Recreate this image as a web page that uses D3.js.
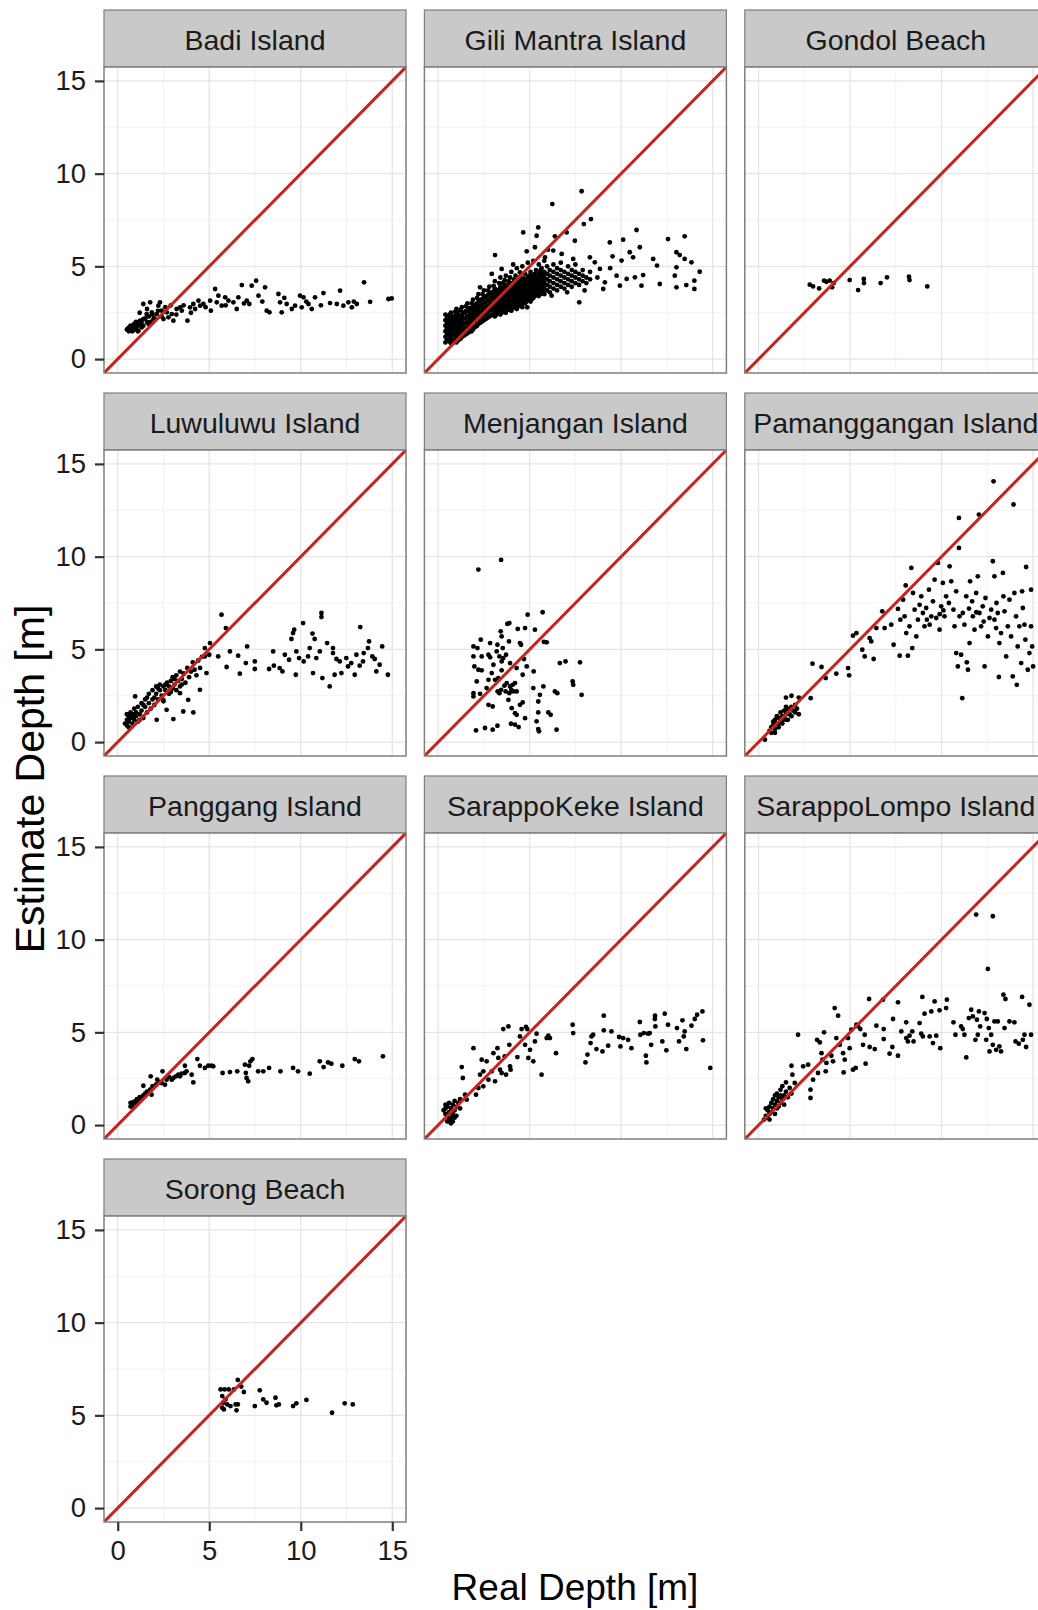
<!DOCTYPE html>
<html>
<head>
<meta charset="utf-8">
<script src="https://cdn.jsdelivr.net/npm/d3@7"></script>
<style>
  body { margin: 0; background: #fff; }
  text { font-family: "Liberation Sans", Arial, sans-serif; }
</style>
</head>
<body>
<script>
// facet order, same as the reference
var sites = ["Badi Island", "Gili Mantra Island", "Gondol Beach",
             "Luwuluwu Island", "Menjangan Island", "Pamanggangan Island",
             "Panggang Island", "SarappoKeke Island", "SarappoLompo Island",
             "Sorong Beach"];

var majorTicks = [0, 5, 10, 15];
var minorTicks = [2.5, 7.5, 12.5];
var axisDomain = [-0.75, 15.75];

// [real depth, estimate depth]
var badi = [[0.55,1.62],[0.67,1.71],[0.76,1.53],[0.86,1.8],[0.95,1.62],[1.04,1.89],[1.13,1.53],[1.22,2.07],
  [1.31,1.71],[1.4,2.97],[1.4,2.16],[1.58,2.43],[1.68,1.89],[1.77,3.06],[1.86,2.52],[1.95,2.16],[2.13,2.43],
  [2.22,2.88],[2.31,3.06],[2.4,2.61],[2.5,2.16],[2.68,2.52],[2.77,2.25],[2.95,2.43],[3.04,2.07],[3.22,2.7],
  [3.41,2.79],[3.5,2.61],[3.81,2.07],[3.95,2.79],[4.13,2.97],[4.23,2.7],[4.41,3.15],[4.5,2.88],[4.68,2.97],
  [5.05,3.15],[5.09,2.61],[5.32,3.78],[5.41,3.06],[5.5,3.42],[5.68,2.88],[5.87,3.33],[6.05,3.15],[6.32,3.06],
  [6.5,2.7],[6.59,3.33],[6.78,3.99],[7.05,3.15],[7.19,2.97],[7.32,3.96],[7.56,4.23],[7.69,3.42],[8.05,3.87],
  [8.14,2.61],[8.29,2.52],[8.78,3.51],[8.87,3.06],[8.96,2.52],[9.23,2.97],[9.51,2.7],[9.69,2.88],[9.96,3.42],
  [10.05,2.79],[10.15,3.33],[10.42,2.97],[10.6,2.7],[10.78,3.33],[11.24,3.56],[11.6,3.02],[11.97,2.97],
  [12.15,3.69],[12.33,2.88],[12.6,3.06],[12.79,2.79],[13.06,2.97],[13.46,4.14],[13.79,3.09],[14.79,3.24],
  [14.97,3.27],[0.5,1.6],[0.6,1.7],[0.6,1.5],[0.7,1.8],[0.7,1.6],[0.8,1.5],[0.8,1.7],[0.9,1.9],[0.9,1.6],
  [1.0,1.7],[1.0,2.0],[1.1,1.8],[1.2,1.9],[1.3,2.0],[1.1,1.5],[1.4,1.8],[1.5,2.2],[1.6,2.0],[1.7,2.3],
  [1.8,2.0],[1.9,2.4],[2.0,2.2],[2.2,2.6],[2.4,2.3],[2.6,2.8],[1.2,2.5],[1.6,2.7],[2.9,2.9],[3.2,2.4],
  [3.6,2.9],[4.0,2.5],[4.8,2.8],[5.9,2.9],[6.9,3.0],[7.9,3.1],[9.1,3.3],[10.3,3.1],[11.1,2.9],[12.9,3.1]];

// dense core of Gili Mantra, read column by column: [x, [estimates...]]
var giliCore = [
  [0.4,[0.9,1.2,1.5,1.8,2.1,2.4]], [0.55,[1.0,1.35,1.65,1.95,2.25]], [0.7,[0.85,1.15,1.45,1.75,2.05,2.5]],
  [0.85,[1.0,1.3,1.6,1.9,2.2]], [1.0,[0.9,1.2,1.5,1.8,2.1,2.4,2.7]], [1.15,[1.05,1.35,1.65,1.95,2.25]],
  [1.3,[1.2,1.5,1.8,2.1,2.4,2.8]], [1.45,[1.3,1.6,1.9,2.2,2.5]], [1.6,[1.4,1.7,2.0,2.3,2.6,3.0]],
  [1.75,[1.55,1.85,2.15,2.45,2.75]], [1.9,[1.6,1.9,2.2,2.5,2.8,3.2]], [2.05,[1.75,2.05,2.35,2.65,2.95]],
  [2.2,[1.9,2.2,2.5,2.8,3.1,3.5]], [2.35,[2.0,2.3,2.6,2.9,3.2]], [2.5,[2.1,2.4,2.7,3.0,3.3,3.7]],
  [2.65,[2.2,2.5,2.8,3.1,3.4]], [2.8,[2.3,2.6,2.9,3.2,3.5,3.9]], [2.95,[2.4,2.7,3.0,3.3,3.6]],
  [3.1,[2.3,2.6,2.9,3.2,3.5,3.8,4.2]], [3.25,[2.5,2.8,3.1,3.4,3.7]], [3.4,[2.4,2.7,3.0,3.3,3.6,3.9,4.4]],
  [3.55,[2.6,2.9,3.2,3.5,3.8,4.1]], [3.7,[2.5,2.8,3.1,3.4,3.7,4.0,4.5]], [3.85,[2.7,3.0,3.3,3.6,3.9,4.2]],
  [4.0,[2.6,2.9,3.2,3.5,3.8,4.1,4.7]], [4.15,[2.8,3.1,3.4,3.7,4.0,4.3]], [4.3,[2.7,3.0,3.3,3.6,3.9,4.2,4.9]],
  [4.45,[2.9,3.2,3.5,3.8,4.1,4.4]], [4.6,[2.8,3.1,3.4,3.7,4.0,4.3,5.0]], [4.75,[3.0,3.3,3.6,3.9,4.2,4.6]],
  [4.9,[3.2,3.5,3.8,4.1,4.4,5.2]], [5.05,[3.1,3.4,3.7,4.0,4.3,4.7]], [5.2,[3.3,3.6,3.9,4.2,4.5,5.3]],
  [5.35,[3.5,3.8,4.1,4.4,4.8]], [5.5,[3.4,3.7,4.0,4.3,4.6,5.1]], [5.65,[3.6,3.9,4.2,4.5,4.9]],
  [5.8,[3.5,3.8,4.1,4.4,4.7,5.3]], [5.95,[3.7,4.0,4.3,4.6,5.0]], [6.1,[3.6,3.9,4.2,4.5,4.8]],
  [6.3,[3.8,4.1,4.4,4.7,5.1]], [6.5,[3.7,4.0,4.3,4.6,4.9]], [6.7,[3.9,4.2,4.5,4.8,5.2]],
  [6.9,[3.8,4.1,4.4,4.7]], [7.1,[4.0,4.3,4.6,5.0]], [7.3,[3.9,4.2,4.5,4.8]], [7.5,[4.1,4.4,4.7,5.1]],
  [7.7,[4.0,4.3,4.6]], [7.9,[4.2,4.5,4.8]], [8.1,[4.1,4.4]], [8.3,[4.3,4.7]],
  [0.48,[1.05,1.35,1.65,1.95,2.3]], [0.63,[0.95,1.25,1.55,1.85,2.15,2.4]], [0.78,[1.0,1.3,1.6,1.9,2.3]],
  [0.93,[1.05,1.35,1.7,2.0,2.3,2.55]], [1.08,[1.0,1.25,1.55,1.85,2.15,2.5]], [1.23,[1.1,1.4,1.7,2.0,2.35,2.65]],
  [1.38,[1.25,1.55,1.85,2.2,2.5]], [1.53,[1.35,1.65,1.95,2.25,2.6,2.85]], [1.68,[1.45,1.75,2.05,2.35,2.65]],
  [1.83,[1.5,1.8,2.1,2.4,2.7,3.0]], [1.98,[1.7,2.0,2.3,2.6,2.9]], [2.13,[1.8,2.1,2.4,2.7,3.0,3.3]],
  [2.28,[1.95,2.25,2.55,2.85,3.15]], [2.43,[2.05,2.35,2.65,2.95,3.25,3.5]], [2.58,[2.15,2.45,2.75,3.05,3.35]],
  [2.73,[2.25,2.55,2.85,3.15,3.45,3.7]], [2.88,[2.35,2.65,2.95,3.25,3.55]], [3.03,[2.45,2.75,3.05,3.35,3.65,3.95]],
  [3.18,[2.4,2.7,3.0,3.3,3.6]], [3.33,[2.55,2.85,3.15,3.45,3.75,4.1]], [3.48,[2.5,2.8,3.1,3.4,3.7]],
  [3.63,[2.7,3.0,3.3,3.6,3.9,4.25]], [3.78,[2.65,2.95,3.25,3.55,3.85]], [3.93,[2.8,3.1,3.4,3.7,4.0,4.4]],
  [4.08,[2.75,3.05,3.35,3.65,3.95]], [4.23,[2.9,3.2,3.5,3.8,4.1,4.5]], [4.38,[2.85,3.15,3.45,3.75,4.05]],
  [4.53,[3.0,3.3,3.6,3.9,4.2,4.6]], [4.68,[3.15,3.45,3.75,4.05,4.35]], [4.83,[3.1,3.4,3.7,4.0,4.3]],
  [4.98,[3.3,3.6,3.9,4.2,4.5]], [5.13,[3.25,3.55,3.85,4.15,4.45]], [5.28,[3.4,3.7,4.0,4.3,4.6]],
  [5.43,[3.6,3.9,4.2,4.5]], [5.58,[3.5,3.8,4.1,4.4,4.75]], [5.73,[3.7,4.0,4.3,4.6]]];

var giliOuter = [[7.84,9.05],[6.24,8.36],[8.35,7.55],[7.96,7.28],[5.47,7.1],[4.65,6.83],[5.38,6.65],[10.84,6.96],
  [12.56,6.47],[13.47,6.62],[10.11,6.44],[9.38,6.29],[6.38,6.62],[7.02,6.83],[7.47,6.38],[11.02,6.03],
  [10.47,5.76],[9.53,5.54],[10.02,5.31],[10.65,5.49],[11.75,5.4],[11.96,5.04],[13.02,5.76],[13.2,5.61],
  [13.47,5.4],[13.84,5.22],[14.29,4.71],[13.02,4.95],[12.93,4.5],[13.56,3.99],[14.0,3.78],[14.0,4.23],
  [13.02,3.87],[12.11,4.05],[11.11,3.96],[11.2,4.53],[10.75,4.41],[10.3,4.32],[9.93,3.96],[9.75,4.5],
  [9.11,4.14],[9.02,3.78],[8.84,4.86],[8.56,5.22],[8.29,5.49],[7.71,3.06],[7.05,3.6],[6.2,3.42],[4.87,2.79],
  [3.11,5.61],[3.47,4.86],[2.93,4.59],[4.47,4.68],[4.84,5.81],[5.29,6.03],[5.84,5.49],[6.29,5.85],
  [6.75,5.67],[7.38,5.4],[2.29,3.87],[8.7,4.4],[9.4,4.9],[8.0,3.7],[6.0,5.9],[4.1,5.1]];

var gondol = [[2.8,4.01],[2.98,3.92],[3.31,3.81],[3.58,4.23],[3.71,4.17],[3.89,4.23],[4.02,3.87],[4.11,4.1],
  [4.98,4.26],[5.44,3.72],[5.75,4.32],[5.76,4.1],[6.67,4.1],[7.02,4.41],[8.22,4.44],[8.25,4.26],[9.22,3.92]];

var luwuluwu = [[0.4,1.0],[0.5,1.2],[0.5,0.9],[0.6,1.4],[0.6,1.1],[0.7,1.3],[0.7,1.6],[0.8,1.0],[0.8,1.5],
  [0.9,1.2],[0.9,1.8],[1.0,1.4],[1.0,1.6],[1.1,1.1],[1.1,1.9],[1.2,1.5],[1.3,1.7],[1.3,2.1],[1.4,1.3],
  [1.5,1.9],[1.5,2.3],[1.6,1.6],[1.7,2.1],[1.7,2.6],[1.8,1.8],[1.9,2.3],[1.9,2.8],[2.0,2.0],[2.1,2.6],
  [2.1,3.0],[2.2,2.3],[2.3,2.8],[2.3,3.1],[2.4,2.5],[2.5,3.0],[2.5,2.2],[2.6,2.8],[2.7,3.2],[2.8,2.6],
  [2.8,3.0],[2.9,3.3],[3.0,2.9],[3.0,3.5],[3.1,3.1],[3.2,2.8],[3.2,3.6],[3.3,3.3],[3.4,3.0],[3.4,3.8],
  [3.5,3.4],[3.6,3.7],[3.7,3.2],[3.8,4.0],[3.9,3.5],[4.0,3.8],[4.1,4.3],[4.2,3.9],[4.3,3.6],[4.4,4.4],
  [4.5,4.0],[4.6,4.6],[0.5,1.5],[0.6,0.8],[0.8,1.3],[1.2,1.2],[1.4,2.0],[1.6,2.4],[2.0,2.4],[2.2,2.9],
  [2.6,3.1],[2.9,2.7],[3.5,3.1],[3.1,3.4],
  [5.67,6.87],[5.91,6.15],[5.04,5.34],[4.76,5.07],[4.76,4.62],[5.0,4.71],[5.49,4.62],[6.13,4.89],[5.95,4.05],
  [6.58,4.66],[6.67,3.69],[7.0,4.26],[7.07,5.16],[7.49,4.35],[7.49,3.94],[8.27,3.94],[8.49,4.89],[8.53,4.12],
  [8.85,3.99],[9.0,3.81],[9.13,4.71],[9.36,4.44],[9.49,5.56],[9.58,5.88],[9.64,6.06],[9.73,3.63],[9.76,4.89],
  [9.91,4.53],[10.13,6.42],[10.16,4.35],[10.49,5.07],[10.64,5.85],[10.67,3.72],[10.76,5.56],[11.04,4.89],
  [11.13,6.96],[11.13,6.74],[11.18,3.45],[11.44,5.34],[11.58,3.0],[11.76,5.07],[11.85,3.63],[11.95,4.48],
  [12.13,4.35],[12.22,3.72],[12.49,4.53],[12.58,4.08],[12.95,3.63],[13.04,4.71],[13.22,4.12],[13.25,6.2],
  [13.44,4.8],[13.67,5.07],[13.73,5.43],[13.91,4.62],[14.04,4.48],[14.31,4.17],[14.45,5.16],[14.13,3.81],
  [14.76,3.63],[12.76,4.26],[11.76,4.8],[10.4,4.62],[10.85,4.53],[13.4,4.35],
  [3.04,1.24],[3.58,1.65],[4.13,1.6],[2.13,1.2],[2.67,1.74],[2.49,2.28],[3.4,2.64],[3.85,2.28],[4.49,2.82],
  [4.85,3.72],[0.95,2.46]];

var menjangan = [[2.2,9.3],[3.44,9.82],[4.89,6.87],[5.71,7.0],[3.78,6.37],[3.89,6.42],[4.35,6.1],[4.75,6.15],
  [5.29,6.06],[3.42,5.97],[3.47,5.7],[2.33,5.52],[1.93,5.16],[2.15,5.07],[2.84,5.34],[3.24,5.25],[3.53,5.07],
  [3.87,5.43],[4.53,5.25],[5.78,5.4],[5.93,5.38],[1.93,4.62],[2.38,4.62],[2.75,4.71],[2.84,4.57],[3.2,4.89],
  [3.35,4.62],[3.56,4.53],[3.71,4.71],[3.47,4.35],[1.98,4.08],[3.02,4.17],[3.93,4.26],[4.29,3.99],[4.69,4.48],
  [4.84,4.08],[2.2,3.9],[2.38,3.87],[2.93,3.72],[3.47,3.87],[3.29,3.45],[4.62,3.63],[5.22,3.81],[6.65,4.26],
  [6.96,4.35],[7.75,4.3],[2.11,3.27],[2.75,3.36],[3.11,3.36],[3.75,3.18],[3.93,3.0],[4.07,3.09],[4.11,2.73],
  [4.29,2.73],[3.89,2.64],[4.0,2.82],[3.69,2.73],[3.35,2.64],[3.44,2.82],[3.25,2.73],[1.93,2.64],[2.29,2.6],
  [1.93,2.46],[2.65,2.91],[5.2,2.91],[5.75,3.0],[5.56,2.55],[6.38,2.73],[6.51,2.64],[7.35,3.27],[7.38,3.09],
  [7.84,2.55],[5.47,2.19],[4.62,2.14],[4.47,2.01],[3.84,2.28],[2.75,2.01],[2.98,1.92],[4.02,1.83],[5.47,1.6],
  [6.02,1.6],[6.15,1.47],[4.2,1.56],[4.29,1.47],[4.75,1.29],[5.38,1.12],[2.07,0.63],[2.56,0.76],[2.98,0.67],
  [3.24,0.88],[3.98,0.99],[4.2,0.94],[4.4,0.81],[5.47,0.7],[5.51,0.58],[6.47,0.67],[4.47,5.34],[4.2,3.18],
  [3.62,3.04]];

var pamanggangan = [[0.35,0.13],[0.6,0.6],[0.7,0.8],[0.7,0.5],[0.8,0.9],[0.8,1.1],[0.9,0.7],[0.9,1.2],[1.0,1.0],
  [1.0,1.4],[1.1,0.8],[1.1,1.3],[1.2,1.1],[1.2,1.6],[1.3,1.4],[1.3,1.0],[1.4,1.7],[1.4,1.3],[1.5,1.5],
  [1.5,1.9],[1.6,1.2],[1.6,1.7],[1.7,1.5],[1.8,1.9],[1.8,1.4],[1.9,1.7],[2.0,1.6],[2.1,1.8],[2.2,1.5],
  [1.5,2.4],[1.8,2.5],[2.2,2.4],[0.9,0.5],[1.1,1.0],[1.3,1.2],[1.5,1.2],[1.7,1.8],[2.0,2.0],
  [2.85,2.37],[2.95,4.23],[3.44,4.05],[3.67,3.45],[4.25,3.69],[4.89,3.99],[4.95,3.6],[5.16,5.74],[5.35,5.88],
  [5.67,4.98],[5.8,4.62],[6.07,5.61],[6.16,5.43],[6.29,4.48],[6.44,6.15],[6.76,7.05],[6.89,6.15],[7.25,6.33],
  [7.38,5.25],[7.62,7.18],[7.71,4.66],[7.75,6.6],[7.98,6.78],[8.04,8.45],[8.07,5.88],[8.16,4.66],[8.25,6.24],
  [8.35,9.39],[8.4,5.07],[8.44,8.04],[8.53,7.14],[8.62,5.7],[8.71,6.6],[8.89,7.86],[8.98,6.96],[9.07,6.24],
  [9.16,7.23],[9.31,8.22],[9.35,6.33],[9.44,6.78],[9.53,7.59],[9.62,8.76],[9.71,6.69],[9.8,9.66],[9.89,6.06],
  [9.98,7.32],[10.07,8.58],[10.16,6.78],[10.25,7.86],[10.44,9.48],[10.53,8.67],[10.65,7.14],[10.71,6.24],
  [10.8,8.13],[10.8,4.8],[10.89,4.08],[10.95,12.09],[10.95,10.47],[10.98,6.78],[11.07,4.71],[11.13,2.37],
  [11.16,6.96],[11.25,6.33],[11.35,7.86],[11.38,4.3],[11.44,3.9],[11.53,5.34],[11.56,8.67],[11.67,7.59],
  [11.71,6.78],[11.8,6.06],[11.89,8.04],[11.98,8.94],[12.04,12.27],[12.07,6.96],[12.16,6.24],[12.25,7.32],
  [12.35,4.08],[12.4,7.77],[12.53,5.7],[12.62,6.69],[12.71,7.14],[12.8,9.75],[12.84,14.06],[12.89,8.94],
  [12.89,6.6],[12.98,6.15],[13.07,6.96],[13.16,5.34],[13.13,3.51],[13.25,5.88],[13.35,9.12],[13.38,7.86],
  [13.44,7.05],[13.53,4.62],[13.62,6.24],[13.71,7.68],[13.8,5.7],[13.89,3.54],[13.93,12.81],[13.98,8.04],
  [14.07,6.78],[14.11,3.09],[14.16,5.16],[14.25,6.24],[14.35,4.26],[14.4,8.13],[14.44,7.23],[14.53,6.33],
  [14.58,5.52],[14.62,9.44],[14.71,3.9],[14.8,4.8],[14.89,8.22],[14.89,6.24],[14.95,5.16],[15.0,4.08],
  [7.9,7.68],[8.8,7.4],[9.9,6.9],[10.4,7.5],[11.5,7.2],[12.3,6.5],[13.0,7.5],[9.2,6.6],[10.1,7.1],[11.9,7.0]];

var panggang = [[0.7,1.0],[0.75,1.15],[0.8,1.1],[0.85,1.25],[0.9,1.2],[1.0,1.3],[1.05,1.4],[1.1,1.35],[1.2,1.5],
  [1.3,1.45],[1.4,1.6],[0.8,1.0],[0.7,1.2],[1.0,1.2],[1.5,1.7],[1.4,2.12],[1.8,2.63],[1.85,1.64],[1.76,1.91],
  [2.16,2.45],[2.27,2.3],[2.45,2.9],[2.4,2.27],[2.58,2.18],[2.67,2.45],[2.95,2.45],[3.04,2.54],[3.18,2.63],
  [3.31,2.72],[3.4,2.63],[3.49,2.77],[3.67,2.81],[3.67,3.2],[3.76,2.9],[4.04,2.72],[4.13,2.3],[4.35,3.56],
  [4.49,3.2],[4.76,3.08],[4.95,3.2],[5.13,3.2],[5.22,3.17],[5.73,2.81],[6.13,2.86],[6.53,2.9],[6.95,3.26],
  [7.0,2.81],[7.04,2.54],[7.13,2.36],[7.18,3.2],[7.25,3.44],[7.36,3.56],[7.67,2.9],[7.95,2.9],[8.27,3.08],
  [8.89,2.9],[9.58,3.08],[9.85,2.9],[10.49,2.77],[11.04,3.44],[11.25,3.13],[11.49,3.38],[11.67,3.31],
  [12.27,3.2],[12.95,3.56],[13.18,3.44],[14.49,3.71],[1.6,1.8],[1.9,2.1],[2.1,2.2],[2.8,2.6]];

var sarappoKeke = [[0.3,0.8],[0.4,0.6],[0.4,0.9],[0.5,0.5],[0.5,1.0],[0.6,0.3],[0.6,0.7],[0.7,0.4],[0.7,0.9],
  [0.8,0.2],[0.8,0.6],[0.8,1.1],[0.9,0.8],[1.0,1.0],[1.0,0.5],[1.1,1.2],[1.2,0.9],[0.6,1.2],[0.9,1.3],
  [0.5,0.2],[1.2,1.4],[0.4,1.1],[0.7,0.1],[0.9,0.4],
  [1.29,3.13],[1.35,2.54],[1.56,1.37],[1.47,1.64],[1.93,4.15],[2.07,1.64],[2.2,2.0],[2.29,2.72],[2.38,3.53],
  [2.47,2.9],[2.47,2.09],[2.65,3.44],[2.75,2.45],[2.93,2.9],[3.02,3.88],[3.11,2.36],[3.24,4.15],[3.29,3.62],
  [3.38,2.99],[3.47,2.81],[3.56,5.18],[3.64,3.71],[3.71,2.72],[3.84,5.32],[3.89,4.33],[3.93,3.17],[3.96,2.99],
  [4.33,3.67],[4.47,4.78],[4.56,5.18],[4.75,4.33],[4.8,5.29],[4.87,5.18],[4.93,3.62],[5.02,4.06],[5.2,3.44],
  [5.29,4.51],[5.38,4.93],[5.65,2.72],[5.93,4.69],[6.02,4.82],[6.11,4.69],[6.44,3.88],[7.35,5.41],[7.38,4.96],
  [8.05,3.38],[8.16,3.8],[8.33,4.42],[8.38,4.78],[8.47,4.87],[8.65,4.1],[8.98,3.97],[9.05,5.9],[9.05,5.11],
  [9.29,4.28],[9.47,5.05],[9.89,4.75],[9.96,4.24],[10.11,4.69],[10.38,4.6],[10.56,4.15],[11.02,5.56],
  [11.05,4.87],[11.24,4.96],[11.35,3.74],[11.38,3.38],[11.47,4.93],[11.56,4.96],[11.64,4.33],[11.84,5.72],
  [11.85,5.9],[11.87,5.32],[12.25,4.51],[12.38,6.01],[12.47,4.03],[12.56,5.41],[13.05,5.23],[13.16,4.51],
  [13.35,5.65],[13.42,4.78],[13.47,5.05],[13.56,4.1],[13.84,5.36],[14.02,5.72],[14.15,5.95],[14.44,6.13],
  [14.47,4.57],[14.87,3.08]];

var sarappoLompo = [[0.3,0.3],[0.4,0.5],[0.5,0.4],[0.5,0.8],[0.6,0.6],[0.6,1.0],[0.7,0.7],[0.7,1.2],[0.8,0.9],
  [0.8,1.4],[0.9,1.1],[0.9,0.6],[1.0,1.3],[1.0,1.7],[1.1,1.0],[1.1,1.5],[1.2,1.2],[1.2,1.9],[1.3,1.4],
  [1.3,2.1],[1.4,1.6],[1.4,1.1],[1.5,1.8],[1.5,2.3],[1.6,1.5],[1.7,2.0],[0.4,0.9],[0.6,0.3],[1.8,1.7],
  [0.9,1.6],[1.0,0.9],[1.2,1.6],
  [1.8,3.2],[1.85,2.72],[1.98,2.27],[2.16,4.87],[2.44,3.17],[2.71,3.26],[2.84,1.91],[2.84,1.46],[2.98,2.45],
  [3.25,2.81],[3.2,4.6],[3.35,4.46],[3.44,3.88],[3.49,3.53],[3.58,5.0],[3.67,2.9],[3.71,3.35],[3.98,3.74],
  [4.07,3.44],[4.16,6.31],[4.25,4.69],[4.35,5.9],[4.44,4.33],[4.62,3.88],[4.65,2.84],[4.71,3.53],[4.89,4.69],
  [4.98,4.15],[5.07,5.14],[5.16,2.99],[5.31,3.08],[5.35,5.41],[5.44,5.32],[5.56,5.18],[5.71,4.33],[5.8,4.87],
  [5.85,3.31],[6.04,6.8],[6.07,4.21],[6.35,4.1],[6.44,5.36],[6.8,6.76],[6.84,5.18],[6.84,4.64],[7.16,3.85],
  [7.31,4.21],[7.35,5.72],[7.62,6.62],[7.62,3.74],[7.8,5.05],[8.07,5.54],[8.07,4.69],[8.16,4.51],[8.25,4.82],
  [8.4,5.05],[8.47,4.51],[8.8,5.5],[8.89,4.93],[8.95,6.91],[8.98,4.78],[9.07,6.01],[9.35,4.78],[9.44,6.13],
  [9.53,4.42],[9.62,6.67],[9.71,4.82],[9.89,6.19],[9.93,4.15],[10.25,6.31],[10.29,6.76],[10.65,5.54],
  [10.76,4.87],[11.07,5.32],[11.16,5.18],[11.25,4.87],[11.35,3.65],[11.49,5.77],[11.62,6.22],[11.71,5.86],
  [11.85,4.6],[11.89,11.35],[11.93,5.68],[11.98,4.87],[12.04,6.13],[12.11,5.32],[12.35,6.04],[12.44,4.6],
  [12.47,5.72],[12.53,8.42],[12.58,5.23],[12.62,3.97],[12.71,4.87],[12.8,11.26],[12.8,4.33],[12.89,5.59],
  [12.98,4.06],[13.07,5.59],[13.16,4.24],[13.25,3.97],[13.38,7.03],[13.44,5.23],[13.49,6.8],[13.71,5.59],
  [13.98,5.54],[14.04,4.51],[14.22,4.39],[14.4,6.91],[14.44,4.6],[14.53,4.87],[14.62,4.21],[14.8,6.49],
  [14.89,4.87]];

var sorong = [[5.62,6.4],[5.84,6.4],[6.07,6.4],[5.71,6.04],[5.76,5.68],[5.89,5.86],[5.98,5.59],[5.71,5.41],
  [5.8,5.32],[6.16,5.5],[6.44,5.59],[6.56,5.59],[6.49,5.27],[6.56,6.91],[6.75,6.55],[6.89,6.26],[6.35,6.4],
  [7.49,5.5],[7.76,6.35],[7.95,5.86],[8.13,5.68],[8.62,5.95],[8.67,5.54],[8.8,5.59],[9.58,5.5],[9.76,5.65],
  [10.31,5.83],[11.71,5.14],[12.4,5.65],[12.84,5.59]];

var gili = giliOuter.slice();
giliCore.forEach(function (col) {
    col[1].forEach(function (v) { gili.push([col[0], v]); });
});

var siteData = [badi, gili, gondol, luwuluwu, menjangan, pamanggangan,
                panggang, sarappoKeke, sarappoLompo, sorong];

var W = 1038, H = 1610,
    left0 = 104, colStep = 320.4,
    top0 = 10, rowStep = 383,
    stripH = 57, panelW = 302, panelH = 306,
    nCol = 3, nRow = 4;

var svg = d3.select("body").append("svg")
    .attr("width", W).attr("height", H);

svg.append("rect").attr("width", W).attr("height", H).attr("fill", "#fff");

var x = d3.scaleLinear().domain(axisDomain).range([0, panelW]);
var y = d3.scaleLinear().domain(axisDomain).range([panelH, 0]);

var defs = svg.append("defs");
defs.append("clipPath").attr("id", "panelClip")
    .append("rect").attr("width", panelW).attr("height", panelH);

var refLine = d3.line()
    .x(function (d) { return x(d); })
    .y(function (d) { return y(d); });

sites.forEach(function (name, i) {
    var c = i % nCol, r = Math.floor(i / nCol);
    var gx = left0 + c * colStep, gy = top0 + r * rowStep;
    var g = svg.append("g").attr("transform", "translate(" + gx + "," + gy + ")");

    // strip
    g.append("rect")
        .attr("width", panelW).attr("height", stripH)
        .attr("fill", "#c9c9c9").attr("stroke", "#7f7f7f").attr("stroke-width", 1.2);
    g.append("text")
        .attr("x", panelW / 2).attr("y", 39.5)
        .attr("text-anchor", "middle")
        .attr("font-size", 28.5).attr("fill", "#1a1a1a")
        .text(name);

    var p = g.append("g").attr("transform", "translate(0," + stripH + ")");
    p.append("rect").attr("width", panelW).attr("height", panelH).attr("fill", "#fff");

    // grid
    var grid = p.append("g").attr("clip-path", "url(#panelClip)");
    minorTicks.forEach(function (t) {
        grid.append("line").attr("x1", x(t)).attr("x2", x(t)).attr("y1", 0).attr("y2", panelH)
            .attr("stroke", "#f3f3f3").attr("stroke-width", 1);
        grid.append("line").attr("y1", y(t)).attr("y2", y(t)).attr("x1", 0).attr("x2", panelW)
            .attr("stroke", "#f3f3f3").attr("stroke-width", 1);
    });
    majorTicks.forEach(function (t) {
        grid.append("line").attr("x1", x(t)).attr("x2", x(t)).attr("y1", 0).attr("y2", panelH)
            .attr("stroke", "#e5e5e8").attr("stroke-width", 1.3);
        grid.append("line").attr("y1", y(t)).attr("y2", y(t)).attr("x1", 0).attr("x2", panelW)
            .attr("stroke", "#e5e5e8").attr("stroke-width", 1.3);
    });

    var plot = p.append("g").attr("clip-path", "url(#panelClip)");
    plot.selectAll("circle").data(siteData[i]).enter().append("circle")
        .attr("cx", function (d) { return x(d[0]); })
        .attr("cy", function (d) { return y(d[1]); })
        .attr("r", 2.4)
        .attr("fill", "#000");

    // y = x reference
    plot.append("path")
        .datum(axisDomain)
        .attr("d", refLine)
        .attr("fill", "none")
        .attr("stroke", "#c9221c")
        .attr("stroke-width", 3);

    p.append("rect").attr("width", panelW).attr("height", panelH)
        .attr("fill", "none").attr("stroke", "#7f7f7f").attr("stroke-width", 1.5);

    // axes only on the outer panels, like the old facet_wrap
    if (c === 0) {
        var ya = p.append("g").call(d3.axisLeft(y).tickValues(majorTicks).tickSize(9).tickPadding(9));
        styleAxis(ya);
    }
    if (r === nRow - 1) {
        var xa = p.append("g").attr("transform", "translate(0," + panelH + ")")
            .call(d3.axisBottom(x).tickValues(majorTicks).tickSize(9).tickPadding(9));
        styleAxis(xa);
    }
});

function styleAxis(a) {
    a.select(".domain").remove();
    a.selectAll(".tick line").attr("stroke", "#333").attr("stroke-width", 2.2);
    a.selectAll(".tick text")
        .attr("font-size", 27.5)
        .attr("fill", "#1a1a1a")
        .style("font-family", "'Liberation Sans', Arial, sans-serif");
}

// axis titles
svg.append("text")
    .attr("x", 575).attr("y", 1600)
    .attr("text-anchor", "middle")
    .attr("font-size", 37).attr("fill", "#000")
    .text("Real Depth [m]");

svg.append("text")
    .attr("transform", "translate(44,779) rotate(-90)")
    .attr("text-anchor", "middle")
    .attr("font-size", 41).attr("fill", "#000")
    .text("Estimate Depth [m]");
</script>
</body>
</html>
